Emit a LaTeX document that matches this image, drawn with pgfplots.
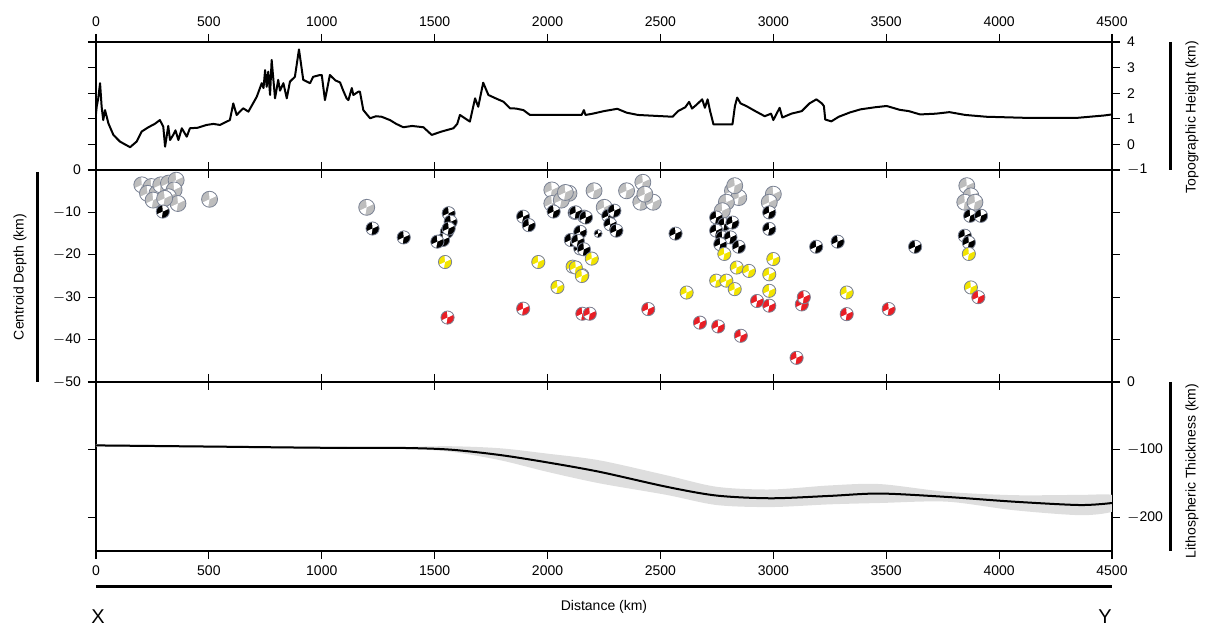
\documentclass[border=0pt]{standalone}
\usepackage{fontspec}
\setmainfont{Liberation Sans}
\usepackage{pgfplots}
\pgfplotsset{compat=1.18}
\definecolor{qgray}{HTML}{BDBDBD}
\definecolor{qyel}{HTML}{F2E400}
\definecolor{qred}{HTML}{E81E25}
\definecolor{qedge}{HTML}{7A8294}
\pgfdeclareplotmark{bb}{%
  \pgfpathcircle{\pgfpointorigin}{\pgfplotmarksize}%
  \pgfusepathqfill
  \begin{pgfscope}%
  \pgfsetfillcolor{white}%
  \pgfpathmoveto{\pgfpointorigin}%
  \pgfpathlineto{\pgfpointpolar{25}{\pgfplotmarksize}}%
  \pgfpatharc{25}{95}{\pgfplotmarksize}%
  \pgfpathclose
  \pgfpathmoveto{\pgfpointorigin}%
  \pgfpathlineto{\pgfpointpolar{205}{\pgfplotmarksize}}%
  \pgfpatharc{205}{260}{\pgfplotmarksize}%
  \pgfpathclose
  \pgfusepathqfill
  \end{pgfscope}%
  \pgfpathcircle{\pgfpointorigin}{\pgfplotmarksize}%
  \pgfusepathqstroke
}
\pgfplotsset{
  every axis/.append style={
    scale only axis, width=508pt, xmin=0, xmax=4500,
    xtick={0,500,...,4500}, tick align=outside,
    major tick length=4pt, axis line style={line width=1pt},
    tick style={line width=0.6pt, black},
    tick label style={font=\fontsize{7}{8}\selectfont},
    /pgf/number format/assume math mode=true,
    /pgf/number format/1000 sep={},
    anchor=south west, clip=true,
  },
  quake/.style={only marks, mark=bb, mark size=#1, draw=qedge, line width=0.4pt},
}
\begin{document}
\begin{tikzpicture}
\path[use as bounding box] (0,0) rectangle (603.5pt,313.5pt);
% ---------- topography ----------
\begin{axis}[at={(48pt,228.5pt)}, height=64pt, ymin=-1, ymax=4,
  ytick={-1,0,...,4}, yticklabels={$-$1,0,1,2,3,4},
  yticklabel pos=right, xticklabel pos=upper]
\addplot[black, line width=1pt, line join=round] coordinates {
(0,1.2)(3,1.47)(10,1.8)(18,2.39)(25,1.47)(32,0.95)(40,1.34)(55,0.82)(77,0.37)(106,0.11)(151,-0.11)(180,0.11)(202,0.5)(232,0.67)(260,0.8)(283,0.95)(298,0.69)(306,-0.09)(320,0.72)(328,0.17)(342,0.37)(352,0.55)(365,0.17)(380,0.63)(402,0.3)(416,0.63)(450,0.65)(490,0.76)(520,0.8)(549,0.76)(593,0.95)(608,1.6)(623,1.15)(652,1.41)(675,1.28)(712,1.86)(734,2.39)(742,2.2)(749,2.9)(756,2.25)(763,2.84)(771,1.93)(778,3.3)(793,1.8)(807,2.52)(815,2.1)(830,2.39)(845,1.8)(859,2.45)(881,2.64)(899,3.71)(918,2.52)(948,2.39)(962,2.64)(992,2.71)(1000,2.71)(1014,1.73)(1036,2.71)(1060,2.5)(1081,2.42)(1095,2.1)(1110,1.8)(1118,1.73)(1133,2.2)(1140,1.93)(1162,2.06)(1169,2.06)(1184,1.34)(1214,1.02)(1240,1.1)(1265,1.08)(1302,0.95)(1330,0.8)(1361,0.67)(1400,0.72)(1450,0.67)(1487,0.37)(1530,0.5)(1583,0.63)(1600,0.8)(1612,1.15)(1656,0.89)(1679,1.8)(1693,1.47)(1715,2.41)(1738,1.93)(1770,1.8)(1804,1.67)(1834,1.41)(1860,1.4)(1893,1.34)(1922,1.15)(2151,1.15)(2161,1.34)(2168,1.15)(2200,1.2)(2250,1.3)(2309,1.39)(2350,1.24)(2400,1.15)(2554,1.08)(2578,1.3)(2610,1.45)(2627,1.66)(2640,1.4)(2660,1.55)(2685,1.76)(2697,1.43)(2709,1.76)(2720,1.3)(2735,0.78)(2819,0.78)(2830,1.5)(2840,1.83)(2855,1.6)(2880,1.5)(2920,1.3)(2962,1.1)(2990,1.2)(3000,0.95)(3028,1.43)(3040,1.05)(3080,1.2)(3126,1.3)(3160,1.6)(3191,1.76)(3215,1.6)(3224,1.5)(3230,0.97)(3257,0.9)(3290,1.08)(3340,1.25)(3387,1.37)(3450,1.45)(3502,1.5)(3560,1.35)(3600,1.3)(3650,1.17)(3720,1.2)(3780,1.26)(3850,1.15)(3943,1.08)(4106,1.04)(4350,1.04)(4466,1.13)(4500,1.17)};
\end{axis}
% ---------- centroid depth ----------
\begin{axis}[at={(48pt,122.5pt)}, height=106pt, ymin=-50, ymax=0,
  ytick={-50,-40,...,0}, yticklabels={$-$50,$-$40,$-$30,$-$20,$-$10,0},
  yticklabel pos=left, xticklabels={}]
\addplot[quake=4pt, fill=qgray] coordinates {
(203,-3.5)(245,-3.9)(228,-5.5)(270,-5.5)(287,-3.5)(321,-3.1)(355,-2.4)(346,-4.7)(321,-6.3)(363,-7.9)(253,-7.1)(304,-6.7)
(503,-6.9)(1199,-8.8)
(2019,-4.7)(2095,-5.5)(2019,-7.9)(2061,-7.1)(2079,-5.3)(2206,-4.9)(2251,-8.8)(2350,-4.9)(2422,-2.9)(2413,-7.6)(2468,-7.6)(2431,-5.7)
(2819,-4.9)(2847,-6.5)(2792,-7.6)(2829,-3.7)(2774,-9.6)(3000,-5.7)(2982,-7.6)
(3857,-3.7)(3875,-6.1)(3848,-7.6)(3893,-7.6)};
\addplot[quake=3.3pt, fill=black] coordinates {
(296,-9.8)(1225,-13.8)(1363,-15.9)
(1562,-10.2)(1571,-12.2)(1554,-14.6)(1537,-16.5)(1512,-16.9)(1562,-13.8)
(1892,-11)(1917,-13)
(2027,-9.8)(2120,-10.1)(2162,-11)(2103,-16.5)(2145,-14.6)(2145,-18.5)
(2125,-10)(2170,-11.2)(2269,-10.8)(2296,-9.6)(2278,-12.8)(2305,-14.3)(2134,-16.7)(2161,-18.7)(2567,-15)
(2747,-11.2)(2783,-12.8)(2819,-12.4)(2747,-14.3)(2774,-15.9)(2810,-15.9)(2765,-17.5)(2847,-18.1)
(2982,-10)(2982,-13.9)(3190,-18.1)(3285,-16.9)(3628,-18.1)
(3872,-10.8)(3920,-10.8)(3848,-15.5)(3866,-17.1)};
\addplot[quake=2pt, fill=black] coordinates {(2224,-15)};
\addplot[quake=3.3pt, fill=qyel] coordinates {
(1546,-21.7)(1959,-21.7)(2111,-22.8)(2154,-24.8)(2044,-27.6)(2196,-20.9)
(2125,-23)(2152,-25)(2616,-28.9)(2783,-19.8)(2838,-23)(2892,-23.8)(2747,-26.1)(2792,-26.1)(2829,-28.1)
(2982,-24.6)(3000,-21)(2982,-28.5)(3325,-28.9)(3875,-27.7)(3866,-19.8)};
\addplot[quake=3.3pt, fill=qred] coordinates {
(1557,-34.8)(1892,-32.7)(2154,-33.9)(2187,-33.9)(2446,-32.8)(2675,-36)(2756,-36.9)(2856,-39.1)
(2928,-30.9)(2982,-32)(3126,-31.7)(3135,-30)(3325,-34)(3511,-32.8)(3908,-30)(3103,-44.3)};
\end{axis}
% ---------- lithosphere ----------
\begin{axis}[at={(48pt,38pt)}, height=84.5pt, ymin=-250, ymax=0,
  ytick={-200,-100,0}, yticklabels={$-$200,$-$100,0},
  yticklabel pos=right, xticklabel pos=lower]
\addplot[fill=black!13, draw=none, smooth] coordinates {
(0,-92)(1006,-95.5)(1346,-96)(1567,-95)(1789,-98)(2000,-106)(2232,-116)(2527,-138)(2749,-155)(2990,-159)(3250,-153)(3472,-151)(3768,-162.5)(4064,-167.4)(4358,-167)(4500,-167)
(4520,-180)
(4500,-192)(4358,-197)(4064,-189.6)(3768,-177)(3472,-179)(3250,-181)(2990,-185)(2749,-182)(2527,-167)(2232,-150)(2000,-133)(1789,-115.6)(1567,-103)(1346,-99)(1006,-99)(0,-95.5)} -- cycle;
\addplot[black, line width=1pt, smooth] coordinates {
(0,-93.8)(500,-95.5)(1006,-97.3)(1346,-97.5)(1567,-100)(1789,-108)(2000,-119)(2232,-133)(2527,-155)(2749,-168)(2990,-172)(3250,-168.5)(3472,-165)(3768,-170)(4064,-177)(4358,-182)(4500,-179)};
\end{axis}
% ---------- decorations ----------
\draw[line width=1.5pt] (48pt,20pt) -- (556pt,20pt);
\node[font=\fontsize{7}{8}\selectfont] at (302pt,10pt) {Distance (km)};
\node[font=\fontsize{10}{11}\selectfont] at (49pt,5pt) {X};
\node[font=\fontsize{10}{11}\selectfont] at (552.5pt,5pt) {Y};
\draw[line width=1.5pt] (18.5pt,227.5pt) -- (18.5pt,122.5pt);
\node[rotate=90, font=\fontsize{7}{8}\selectfont] at (10pt,175pt) {Centroid Depth (km)};
\draw[line width=1.5pt] (585pt,292.5pt) -- (585pt,228.5pt);
\node[rotate=90, font=\fontsize{7}{8}\selectfont] at (596pt,255pt) {Topographic Height (km)};
\draw[line width=1.5pt] (585pt,122.5pt) -- (585pt,38pt);
\node[rotate=90, font=\fontsize{7}{8}\selectfont] at (596pt,78pt) {Lithospheric Thickness (km)};
\end{tikzpicture}
\end{document}
